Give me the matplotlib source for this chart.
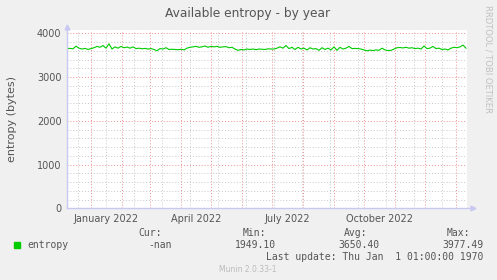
import datetime as dt
import matplotlib
matplotlib.use("Agg")
import matplotlib.pyplot as plt
import pandas as pd

# entropy values, one every 3 days starting 2021-12-08
entropy = [3650, 3655, 3645, 3705, 3660, 3640, 3655, 3630, 3650, 3670,
           3700, 3680, 3720, 3660, 3760, 3640, 3690, 3660, 3700, 3670,
           3685, 3660, 3690, 3650, 3660, 3645, 3655, 3640, 3650, 3630,
           3600, 3650, 3640, 3670, 3630, 3635, 3630, 3625, 3635, 3620,
           3660, 3680, 3690, 3700, 3680, 3690, 3710, 3680, 3700, 3690,
           3700, 3680, 3690, 3695, 3670, 3680, 3640, 3610, 3630, 3620,
           3640, 3630, 3640, 3625, 3640, 3635, 3630, 3645, 3640, 3640,
           3660, 3690, 3660, 3720, 3650, 3680, 3630, 3680, 3640, 3660,
           3620, 3670, 3640, 3650, 3610, 3670, 3630, 3660, 3620, 3690,
           3610, 3680, 3640, 3660, 3700, 3650, 3655, 3650, 3640, 3620,
           3600, 3615, 3605, 3620, 3610, 3660, 3620, 3605, 3610, 3640,
           3670, 3675, 3665, 3680, 3660, 3670, 3650, 3660, 3640, 3710,
           3650, 3660, 3700, 3650, 3660, 3630, 3640, 3620, 3660, 3680,
           3670, 3690, 3730, 3660]
dates = pd.date_range("2021-12-08", periods=len(entropy), freq="3D")

month_labels = ["January 2022", "April 2022", "July 2022", "October 2022"]
label_dates = [dt.datetime(2022, 1, 16), dt.datetime(2022, 4, 16),
               dt.datetime(2022, 7, 16), dt.datetime(2022, 10, 16)]
y_ticks = [0, 1000, 2000, 3000, 4000]

legend_cur = "-nan"
legend_min = "1949.10"
legend_avg = "3650.40"
legend_max = "3977.49"

x0 = dt.datetime(2021, 12, 8)
x1 = dt.datetime(2023, 1, 12)

bg = "#f0f0f0"
txt = "#555555"
fig = plt.figure(figsize=(4.97, 2.80), dpi=100, facecolor=bg)
ax = fig.add_axes([67 / 497, 71.7 / 280, 400 / 497, 178.3 / 280])
ax.set_facecolor("white")
ax.set_xlim(x0, x1)
ax.set_ylim(0, 4075)

# grid
for v in range(200, 4001, 200):
    if v % 1000:
        ax.axhline(v, color="#c8c8c8", lw=0.7, ls=(0, (1, 2)), zorder=1)
for v in y_ticks[1:]:
    ax.axhline(v, color="#f09090", lw=0.7, ls=(0, (1, 2)), zorder=1.5)
d = dt.datetime(2021, 12, 19)
while d < x1:
    ax.axvline(d, color="#c8c8c8", lw=0.7, ls=(0, (1, 2)), zorder=1)
    d += dt.timedelta(days=28)
for m in pd.date_range("2022-01-01", "2023-01-01", freq="MS"):
    ax.axvline(m, color="#f09090", lw=0.7, ls=(0, (1, 2)), zorder=1.5)

ax.plot(dates, entropy, color="#00cc00", lw=0.8, zorder=3)

for s in ax.spines.values():
    s.set_visible(False)
ax.plot([0, 0], [0, 1.01], transform=ax.transAxes, color="#c8c8f0", lw=1,
        clip_on=False, zorder=4)
ax.plot([0, 1.01], [0, 0], transform=ax.transAxes, color="#c8c8f0", lw=1,
        clip_on=False, zorder=4)
ax.plot([0], [1.015], marker="^", ms=3.5, color="#c8c8f0", transform=ax.transAxes, clip_on=False)
ax.plot([1.015], [0], marker=">", ms=3.5, color="#c8c8f0", transform=ax.transAxes, clip_on=False)

ax.set_yticks(y_ticks)
ax.set_yticklabels([str(v) for v in y_ticks])
ax.set_xticks(label_dates)
ax.set_xticklabels(month_labels)
ax.tick_params(axis="both", length=0, labelsize=7, colors=txt, pad=4)
ax.set_ylabel("entropy (bytes)", fontsize=8, color=txt, labelpad=14)

fig.text(248 / 497, 1 - 13 / 280, "Available entropy - by year", ha="center",
         va="center", fontsize=8.8, color=txt)
fig.text(488 / 497, 1 - 5 / 280, "RRDTOOL / TOBI OETIKER", rotation=270,
         ha="center", va="top", fontsize=6, color="#c0c0c0")

mono = dict(family="DejaVu Sans Mono", fontsize=7, color=txt, va="center")
def put(x, y, s, ha="right"):
    fig.text(x / 497, 1 - y / 280, s, ha=ha, **mono)

put(162, 233, "Cur:")
put(266, 233, "Min:")
put(367, 233, "Avg:")
put(470, 233, "Max:")
fig.patches.append(plt.Rectangle((14 / 497, 1 - 248 / 280), 6 / 497, 6 / 280,
                                 transform=fig.transFigure, color="#00cc00"))
put(27, 245.5, "entropy", ha="left")
put(172, 245.5, legend_cur)
put(276, 245.5, legend_min)
put(379, 245.5, legend_avg)
put(483.5, 245.5, legend_max)
put(483.5, 257.5, "Last update: Thu Jan  1 01:00:00 1970")
fig.text(248 / 497, 1 - 269 / 280, "Munin 2.0.33-1", ha="center", va="center",
         fontsize=5.5, color="#bbbbbb")

fig.savefig("out.png", dpi=100, facecolor=bg)
